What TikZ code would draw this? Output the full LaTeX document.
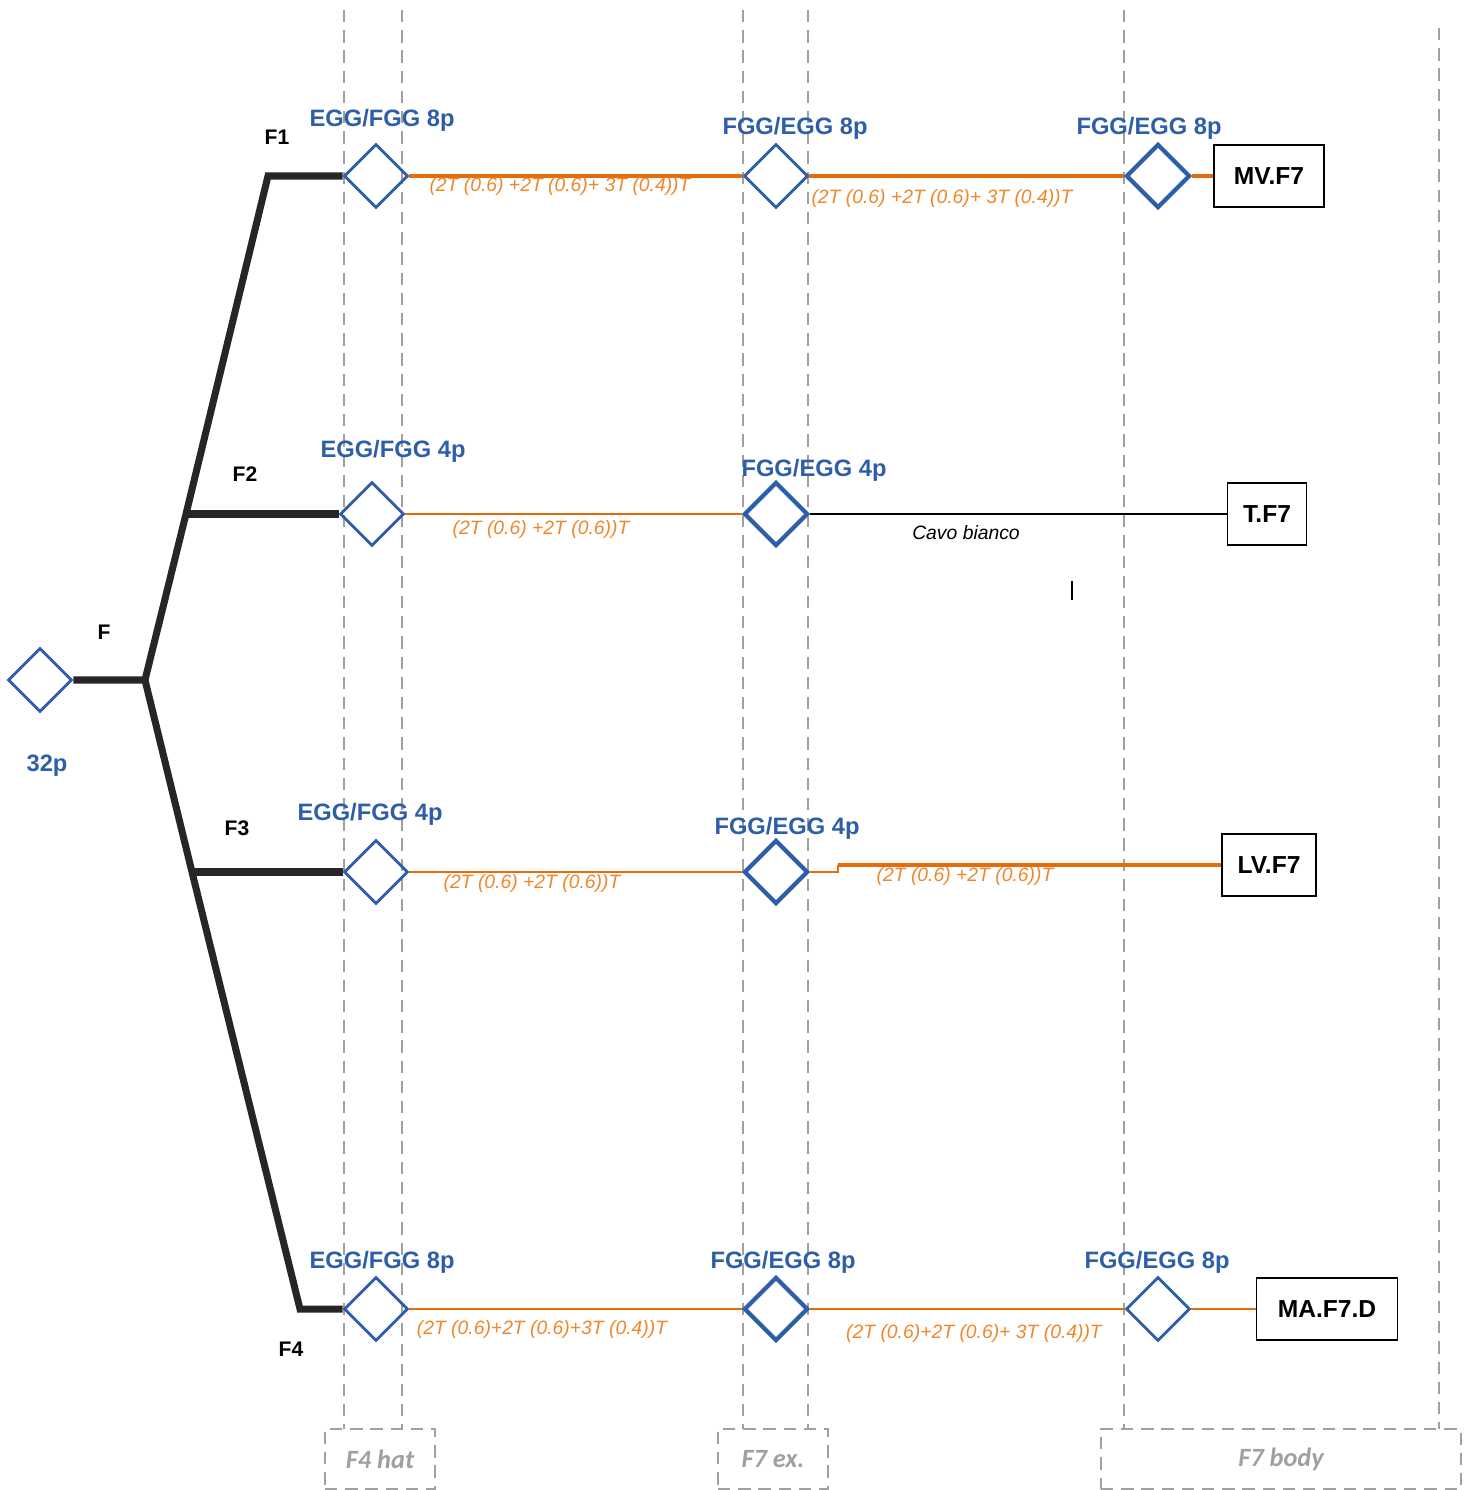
\documentclass[tikz,border=0pt]{standalone}
\usepackage{fontspec}
\setmainfont{Liberation Sans}
\newfontfamily\zonefont{Carlito}
\usetikzlibrary{positioning, shapes.geometric}

\definecolor{pinblue}{RGB}{46,94,168}
\definecolor{wireorange}{RGB}{228,108,10}
\definecolor{tagorange}{RGB}{240,134,42}
\definecolor{guidegray}{RGB}{160,160,160}

\begin{document}
\begin{tikzpicture}[
        x=0.02cm, y=-0.02cm,
        conn/.style={diamond, draw=pinblue, line width=1.6pt, aspect=1, inner sep=0pt,
            minimum width=1.28cm, minimum height=1.28cm},
        connthick/.style={conn, line width=2.4pt},
        conntag/.style={text=pinblue, font=\bfseries\fontsize{13.5}{15}\selectfont},
        branch/.style={font=\bfseries\fontsize{12}{14}\selectfont},
        trunk/.style={line width=4pt, black!85},
        wire/.style={wireorange, line width=0.9pt},
        wiremid/.style={wireorange, line width=1.2pt},
        wirethick/.style={wireorange, line width=2pt},
        wiretag/.style={text=tagorange, font=\itshape\fontsize{11}{13}\selectfont},
        term/.style={draw, line width=1pt, font=\bfseries\fontsize{14}{16}\selectfont,
            inner sep=0pt, minimum height=1.24cm},
        guide/.style={guidegray, dash pattern=on 7pt off 4.5pt, line width=0.8pt},
        zone/.style={draw=guidegray, dash pattern=on 7pt off 4.5pt, line width=0.8pt,
            text=guidegray, font=\zonefont\itshape\bfseries\fontsize{15}{17}\selectfont,
            minimum height=1.2cm, inner sep=0pt},
    ]
    \useasboundingbox (0,0) rectangle (1472,1490);

    % section guides
    \foreach \x in {344,402,743,808,1124}
        \draw[guide] (\x,10) -- (\x,1429);
    \draw[guide] (1439,28) -- (1439,1429);
    \node[zone, minimum width=2.2cm] (hat) at (380,1459) {F4 hat};
    \node[zone, minimum width=2.2cm] (ex) at (773,1459) {F7 ex.};
    \node[zone, minimum width=7.2cm] (body) at (1281,1459) {F7 body};

    % root
    \node[conn] (root) at (40,680) {};
    \node[conntag] (rtag) at (47,766) {32p};
    \coordinate (fork) at (145,680);
    \coordinate (k2) at (186,514);
    \coordinate (bend1) at (268,176);
    \coordinate (k3) at (192,872);
    \coordinate (bend4) at (300,1309);
    \coordinate (s3) at (838,865);

    % connectors
    \node[conn] (d11) at (376,176) {};
    \node[conn] (d12) at (776,176) {};
    \node[connthick] (d13) at (1158,176) {};
    \node[conn] (d21) at (372,514) {};
    \node[connthick] (d22) at (776,514) {};
    \node[conn] (d31) at (376,872) {};
    \node[connthick] (d32) at (776,872) {};
    \node[conn] (d41) at (376,1309) {};
    \node[connthick] (d42) at (776,1309) {};
    \node[conn] (d43) at (1158,1309) {};

    \node[conntag] (t11) at (382,120) {EGG/FGG 8p};
    \node[conntag] (t12) at (795,128) {FGG/EGG 8p};
    \node[conntag] (t13) at (1149,128) {FGG/EGG 8p};
    \node[conntag] (t21) at (393,451) {EGG/FGG 4p};
    \node[conntag] (t22) at (814,470) {FGG/EGG 4p};
    \node[conntag] (t31) at (370,814) {EGG/FGG 4p};
    \node[conntag] (t32) at (787,828) {FGG/EGG 4p};
    \node[conntag] (t41) at (382,1262) {EGG/FGG 8p};
    \node[conntag] (t42) at (783,1262) {FGG/EGG 8p};
    \node[conntag] (t43) at (1157,1262) {FGG/EGG 8p};

    % terminals
    \node[term, minimum width=2.2cm] (mv) at (1269,176) {MV.F7};
    \node[term, minimum width=1.58cm] (tf) at (1267,514) {T.F7};
    \node[term, minimum width=1.88cm] (lv) at (1269,865) {LV.F7};
    \node[term, minimum width=2.82cm] (ma) at (1327,1309) {MA.F7.D};

    % branch labels
    \node[branch] (lf) at (104,632) {F};
    \node[branch] (lf1) at (277,137) {F1};
    \node[branch] (lf2) at (245,474) {F2};
    \node[branch] (lf3) at (237,828) {F3};
    \node[branch] (lf4) at (291,1349) {F4};

    % trunk
    \draw[trunk] (root.east) -- (fork) -- (k2) -- (bend1) -- (d11.west);
    \draw[trunk] (k2) -- (d21.west);
    \draw[trunk] (fork) -- (k3) -- (bend4) -- (d41.west);
    \draw[trunk] (k3) -- (d31.west);

    % cables
    \draw[wirethick] (d11.east) -- (d12.west);
    \draw[wirethick] (d12.east) -- (d13.west);
    \draw[wirethick] (d13.east) -- (mv.west);
    \draw[wire] (d21.east) -- (d22.west);
    \draw[line width=0.8pt] (d22.east) -- (tf.west);
    \draw[wire] (d31.east) -- (d32.west);
    \draw[wire] (d32.east) -| (s3);
    \draw[wirethick] (s3) -- (lv.west);
    \draw[wiremid] (d41.east) -- (d42.west);
    \draw[wiremid] (d42.east) -- (d43.west);
    \draw[wiremid] (d43.east) -- (ma.west);

    \node[wiretag] (w11) at (560,186) {(2T (0.6) +2T (0.6)+ 3T (0.4))T};
    \node[wiretag] (w12) at (942,198) {(2T (0.6) +2T (0.6)+ 3T (0.4))T};
    \node[wiretag] (w21) at (541,529) {(2T (0.6) +2T (0.6))T};
    \node[font=\itshape\fontsize{11}{13}\selectfont] (cavo) at (966,533) {Cavo bianco};
    \node[wiretag] (w31) at (532,883) {(2T (0.6) +2T (0.6))T};
    \node[wiretag] (w32) at (965,876) {(2T (0.6) +2T (0.6))T};
    \node[wiretag] (w41) at (542,1329) {(2T (0.6)+2T (0.6)+3T (0.4))T};
    \node[wiretag] (w42) at (974,1333) {(2T (0.6)+2T (0.6)+ 3T (0.4))T};

    \draw[line width=1pt] (1072,581) -- (1072,600);
\end{tikzpicture}
\end{document}
